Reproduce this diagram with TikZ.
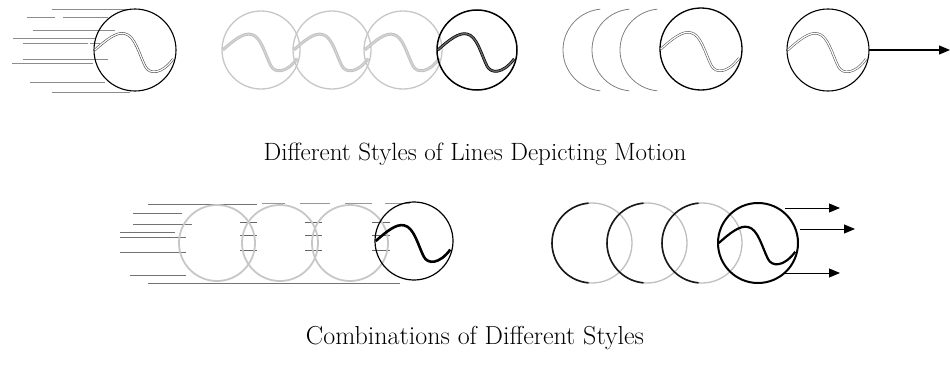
\documentclass[tikz,border=0pt]{standalone}
\usepackage{fontspec}
\setmainfont{Latin Modern Roman}
\usetikzlibrary{arrows.meta}
\begin{document}
\begin{tikzpicture}[x=1pt,y=-1pt,
  ball/.style={line width=1.1pt,draw=black},
  ghost/.style={line width=1.3pt,draw=black!22},
  speed/.style={line width=0.7pt,draw=black!45},
  arr/.style={line width=1.1pt,-{Triangle[length=11pt,width=9pt]}},
  title/.style={font=\fontsize{25}{30}\selectfont,anchor=base},
  seam/.pic={\draw[pic actions] (-0.98,0) .. controls (-0.7,-0.25) and (-0.45,-0.45) .. (-0.25,-0.4)
      .. controls (0.0,-0.35) and (0.1,0.1) .. (0.25,0.4)
      .. controls (0.35,0.6) and (0.65,0.6) .. (0.93,0.22);}
]
\useasboundingbox (0,0) rectangle (950,372);

% ---- group 1: speed lines ----
\foreach \ya/\xa/\xb in {9/52/130, 17/27/55, 17/63/108, 30/33/115, 38/13/95, 43/23/88, 43/90/100, 59/23/108, 63/12/93, 82/30/105, 92/52/130}
  \draw[speed] (\xa,\ya) -- (\xb,\ya);
\draw[ball] (135,50) circle[radius=41];
\pic[draw=black!70,line width=0.6pt,double=white,double distance=1.2pt,scale=41] at (135,50) {seam};

% ---- group 2: ghost sequence ----
\foreach \cx in {261,332,403}{
  \draw[ghost] (\cx,50) circle[radius=39];
  \pic[draw=black!25,line width=0.7pt,double=black!18,double distance=1.6pt,scale=39] at (\cx,50) {seam};
}
\draw[line width=1.5pt] (477,50) circle[radius=40];
\pic[draw=black,line width=0.7pt,double=black!60,double distance=1.4pt,scale=40] at (477,50) {seam};

% ---- group 3: arcs ----
\foreach \cx in {604,633,661}
  \draw[line width=0.8pt,draw=black!50] (\cx,50) ++(95:41) arc[start angle=95,end angle=265,radius=41];
\draw[line width=1.3pt] (701,49) circle[radius=41];
\pic[draw=black!65,line width=0.6pt,double=white,double distance=1.2pt,scale=41] at (701,49) {seam};

% ---- group 4: arrow ----
\draw[ball] (828,50) circle[radius=41];
\pic[draw=black!65,line width=0.6pt,double=white,double distance=1.2pt,scale=41] at (828,50) {seam};
\coordinate (a0) at (869,50);
\coordinate (a1) at (950,50);
\draw[arr] (a0) -- (a1);

\node[title] (t1) at (475,160) {Different Styles of Lines Depicting Motion};

% ---- combination 1 ----
\foreach \ya/\xa/\xb in {204/148/257, 213/133/182, 224/133/192, 232/120/175, 237/120/186, 252/120/186, 275/130/186, 283/148/400}
  \draw[speed,draw=black!55] (\xa,\ya) -- (\xb,\ya);
\foreach \xa/\xb in {262/285, 300/330, 345/372, 385/410}
  \draw[speed,draw=black!40] (\xa,203) -- (\xb,203);
\foreach \ya in {222,235,250}{
  \draw[speed,draw=black!60] (240,\ya) -- (257,\ya);
  \draw[speed,draw=black!60] (305,\ya) -- (322,\ya);
  \draw[speed,draw=black!60] (372,\ya) -- (390,\ya);
}
\foreach \cx in {217,280,350}
  \draw[ghost,line width=1.8pt] (\cx,243) circle[radius=38];
\draw[line width=1.2pt] (414,241) circle[radius=39];
\pic[draw=black,line width=2.6pt,scale=39] at (414,241) {seam};

% ---- combination 2 ----
\foreach \cx in {592,647,702}{
  \draw[line width=1.3pt,draw=black!25] (\cx,243) circle[radius=40];
  \draw[line width=1.6pt,draw=black!90] (\cx,243) ++(95:40) arc[start angle=95,end angle=265,radius=40];
}
\draw[line width=2pt] (758,243) circle[radius=40];
\pic[draw=black,line width=2.2pt,scale=40] at (758,243) {seam};
\coordinate (b0) at (785,208); \coordinate (b1) at (840,208);
\coordinate (c0) at (800,229); \coordinate (c1) at (855,229);
\coordinate (d0) at (785,273); \coordinate (d1) at (840,273);
\draw[arr,line width=0.9pt] (b0) -- (b1);
\draw[arr,line width=0.9pt] (c0) -- (c1);
\draw[arr,line width=0.9pt] (d0) -- (d1);

\node[title,font=\fontsize{26}{30}\selectfont] (t2) at (475,344) {Combinations of Different Styles};
\end{tikzpicture}
\end{document}
